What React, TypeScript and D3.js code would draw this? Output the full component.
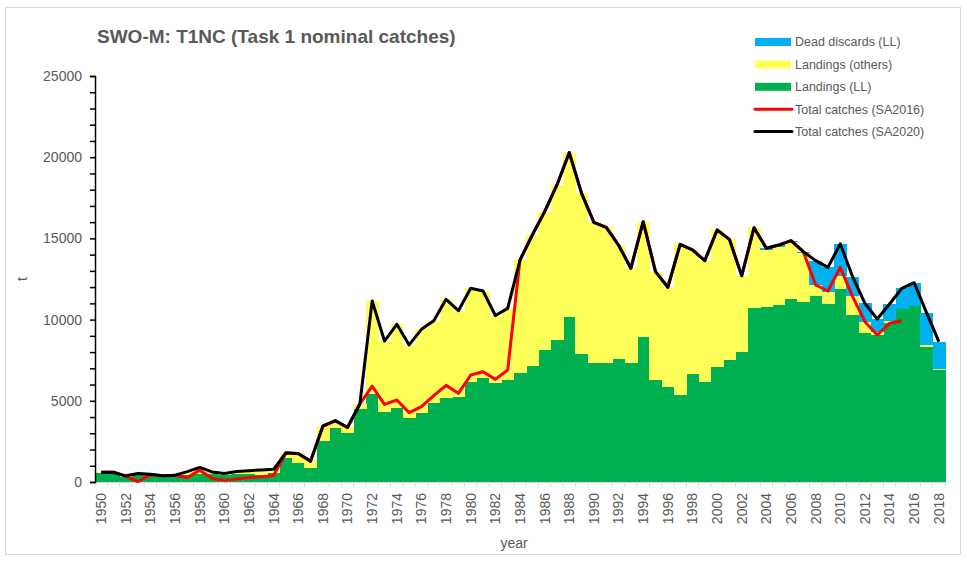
import React, { useEffect, useRef } from "react";
import * as d3 from "d3";

// Mediterranean swordfish, Task 1 nominal catches (t), 1950-2018
const YEARS = d3.range(1950, 2019);

const LANDINGS_LL = [
  540, 540, 330, 430, 420, 330, 380, 450, 520, 470,
  420, 470, 520, 460, 560, 1460, 1150, 840, 2550, 3300,
  3000, 4470, 5400, 4330, 4580, 3920, 4230, 4840, 5150, 5210,
  6140, 6380, 6100, 6280, 6690, 7140, 8130, 8740, 10180, 7880,
  7310, 7310, 7550, 7310, 8950, 6300, 5870, 5360, 6650, 6180,
  7100, 7510, 8030, 10690, 10800, 10900, 11290, 11080, 11450, 10960,
  11870, 10270, 9150, 9050, 9770, 10680, 10840, 8330, 6900,
];

const LANDINGS_OTHERS = [
  60, 60, 50, 90, 60, 50, 40, 190, 380, 150,
  110, 170, 180, 280, 220, 340, 610, 450, 900, 480,
  370, 330, 5750, 4350, 5130, 4520, 5170, 5090, 6100, 5340,
  5790, 5380, 4150, 4410, 6980, 8070, 8520, 9550, 10100, 9890,
  8680, 8370, 7040, 5850, 7080, 6650, 6120, 9270, 7640, 7450,
  8420, 7430, 4670, 4970, 3490, 3590, 3470, 3000, 680, 710,
  840, 1170, 720, 190, 140, 0, 0, 100, 40,
];

const DEAD_DISCARDS = [
  0, 0, 0, 0, 0, 0, 0, 0, 0, 0,
  0, 0, 0, 0, 0, 0, 0, 0, 0, 0,
  0, 0, 0, 0, 0, 0, 0, 0, 0, 0,
  0, 0, 0, 0, 0, 0, 0, 0, 0, 0,
  0, 0, 0, 0, 0, 0, 0, 0, 0, 0,
  0, 0, 0, 0, 100, 100, 100, 100, 1500, 1550,
  1950, 1200, 1130, 800, 1050, 1250, 1430, 2000, 1700,
];

// 1950-2015
const TOTAL_SA2016 = [
  600, 600, 350, 30, 450, 380, 420, 280, 730, 220,
  100, 180, 270, 320, 400, 1780, 1740, 1270, 3430, 3760,
  3350, 4800, 5900, 4780, 5050, 4270, 4640, 5320, 5950, 5460,
  6590, 6790, 6320, 6900, 13670, 15210, 16650, 18290, 20280, 17770,
  15990, 15680, 14590, 13160, 16030, 12950, 11990, 14630, 14290, 13630,
  15520, 14940, 12700, 15660, 14390, 14590, 14860, 14180, 12130, 11760,
  13220, 11410, 9870, 9050, 9770, 9930,
];

// 1950-2018
const TOTAL_SA2020 = [
  600, 600, 380, 520, 480, 380, 420, 640, 900, 620,
  530, 640, 700, 740, 780, 1800, 1760, 1290, 3450, 3780,
  3370, 4800, 11150, 8680, 9710, 8440, 9400, 9930, 11250, 10550,
  11930, 11760, 10250, 10690, 13670, 15210, 16650, 18290, 20280, 17770,
  15990, 15680, 14590, 13160, 16030, 12950, 11990, 14630, 14290, 13630,
  15520, 14940, 12700, 15660, 14390, 14590, 14860, 14180, 13630, 13220,
  14660, 12640, 11000, 10040, 10960, 11930, 12270, 10430, 8640,
];

const Y_TICKS = d3.range(0, 25001, 1000);

const LEGEND = [
  { label: "Dead discards (LL)", color: "#00B0F0", kind: "bar" },
  { label: "Landings (others)", color: "#FFFF5A", kind: "bar" },
  { label: "Landings (LL)", color: "#00B050", kind: "bar" },
  { label: "Total catches (SA2016)", color: "#FF0000", kind: "line" },
  { label: "Total catches (SA2020)", color: "#000000", kind: "line" },
];

const W = 967;
const H = 561;
const FONT = "'Liberation Sans', Arial, sans-serif";
const TEXT = "#595959";

function draw(node: SVGSVGElement) {
  const svg = d3.select(node);
  svg.selectAll("*").remove();

  const margin = { top: 76, right: 22, bottom: 79, left: 95 };
  const innerW = W - margin.left - margin.right;
  const innerH = H - margin.top - margin.bottom;

  // chart area frame
  svg.append("rect")
    .attr("x", 5.5).attr("y", 7.5)
    .attr("width", 955).attr("height", 547)
    .attr("fill", "#fff").attr("stroke", "#d9d9d9");

  const g = svg.append("g")
    .attr("transform", "translate(" + margin.left + "," + margin.top + ")");

  const x = d3.scaleBand<number>().domain(YEARS).range([0, innerW]).padding(0);
  const y = d3.scaleLinear().domain([0, 25000]).range([innerH, 0]);
  const cx = (yr: number) => (x(yr) as number) + x.bandwidth() / 2;

  const rows = YEARS.map((yr, i) => ({
    year: yr,
    ll: LANDINGS_LL[i],
    others: LANDINGS_OTHERS[i],
    discards: DEAD_DISCARDS[i],
  }));
  const colors: Record<string, string> = { ll: "#00B050", others: "#FFFF5A", discards: "#00B0F0" };
  const stacked = d3.stack<any>().keys(["ll", "others", "discards"])(rows);

  g.selectAll("g.layer")
    .data(stacked)
    .enter()
    .append("g")
      .attr("class", "layer")
      .attr("fill", d => colors[d.key])
      .attr("shape-rendering", "crispEdges")
    .selectAll("rect")
    .data(d => d)
    .enter()
    .append("rect")
      .attr("x", d => x(d.data.year) as number)
      .attr("y", d => y(d[1]))
      .attr("width", x.bandwidth() + 0.5)
      .attr("height", d => y(d[0]) - y(d[1]));

  // x axis: light baseline + ticks at band boundaries
  g.append("line")
    .attr("x1", 0).attr("x2", innerW)
    .attr("y1", innerH + 0.5).attr("y2", innerH + 0.5)
    .attr("stroke", "#d9d9d9");
  g.selectAll("line.xtick")
    .data(d3.range(YEARS.length + 1))
    .enter()
    .append("line")
      .attr("class", "xtick")
      .attr("x1", i => i * x.step()).attr("x2", i => i * x.step())
      .attr("y1", innerH).attr("y2", innerH + 5)
      .attr("stroke", "#d9d9d9");
  g.selectAll("text.xlab")
    .data(YEARS.filter(yr => (yr - 1950) % 2 === 0))
    .enter()
    .append("text")
      .attr("class", "xlab")
      .attr("transform", yr => "translate(" + cx(yr) + "," + (innerH + 11) + ") rotate(-90)")
      .attr("text-anchor", "end")
      .attr("dy", "0.35em")
      .attr("font-family", FONT)
      .attr("font-size", 14)
      .attr("fill", TEXT)
      .text(yr => String(yr));

  // y axis
  const yAxis = g.append("g")
    .call(
      d3.axisLeft(y)
        .tickValues(Y_TICKS)
        .tickSize(5)
        .tickPadding(8)
        .tickFormat(d => (+d % 5000 === 0 ? String(d) : ""))
    );
  yAxis.select(".domain").attr("stroke", "#000").attr("stroke-width", 1.5);
  yAxis.selectAll(".tick line").attr("stroke", "#000").attr("stroke-width", 1.5);
  yAxis.selectAll(".tick text")
    .attr("font-family", FONT)
    .attr("font-size", 14)
    .attr("fill", TEXT);

  // lines
  const line = d3.line<number>()
    .x((_, i) => cx(YEARS[i]))
    .y(d => y(d));

  g.append("path")
    .attr("d", line(TOTAL_SA2016))
    .attr("fill", "none")
    .attr("stroke", "#FF0000")
    .attr("stroke-width", 3)
    .attr("stroke-linejoin", "round");

  g.append("path")
    .attr("d", line(TOTAL_SA2020))
    .attr("fill", "none")
    .attr("stroke", "#000")
    .attr("stroke-width", 3)
    .attr("stroke-linejoin", "round");

  // titles
  svg.append("text")
    .attr("x", 97).attr("y", 43)
    .attr("font-family", FONT)
    .attr("font-size", 19)
    .attr("font-weight", "bold")
    .attr("fill", TEXT)
    .text("SWO-M: T1NC (Task 1 nominal catches)");

  svg.append("text")
    .attr("transform", "translate(27," + (margin.top + innerH / 2) + ") rotate(-90)")
    .attr("text-anchor", "middle")
    .attr("font-family", FONT)
    .attr("font-size", 14)
    .attr("fill", TEXT)
    .text("t");

  svg.append("text")
    .attr("x", margin.left + innerW / 2 - 6).attr("y", 548)
    .attr("text-anchor", "middle")
    .attr("font-family", FONT)
    .attr("font-size", 14)
    .attr("fill", TEXT)
    .text("year");

  // legend
  const leg = svg.append("g").attr("transform", "translate(755,42)");
  const item = leg.selectAll("g")
    .data(LEGEND)
    .enter()
    .append("g")
      .attr("transform", (_, i) => "translate(0," + i * 22.4 + ")");
  item.filter(d => d.kind === "bar")
    .append("rect")
      .attr("x", 0).attr("y", -4)
      .attr("width", 36).attr("height", 8)
      .attr("fill", d => d.color);
  item.filter(d => d.kind === "line")
    .append("line")
      .attr("x1", 0).attr("x2", 37)
      .attr("y1", 0).attr("y2", 0)
      .attr("stroke", d => d.color)
      .attr("stroke-width", 3)
      .attr("stroke-linecap", "round");
  item.append("text")
    .attr("x", 40)
    .attr("dy", "0.35em")
    .attr("font-family", FONT)
    .attr("font-size", 12.5)
    .attr("fill", TEXT)
    .text(d => d.label);
}

export default function App() {
  const ref = useRef<SVGSVGElement>(null);

  useEffect(() => {
    if (ref.current) draw(ref.current);
  }, []);

  return (
    <svg
      ref={ref}
      width={W}
      height={H}
      style={{ position: "absolute", left: 0, top: 0, background: "#fff" }}
    />
  );
}
